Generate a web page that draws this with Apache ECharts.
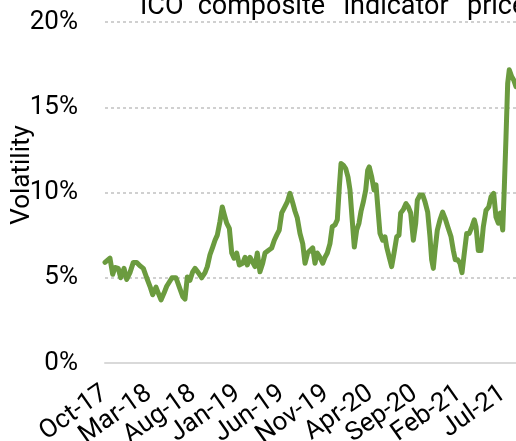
<!DOCTYPE html>
<html>
<head>
<meta charset="utf-8">
<script src="https://cdn.jsdelivr.net/npm/echarts@6/dist/echarts.min.js"></script>
<style>
  html, body { margin: 0; padding: 0; background: #fff; }
  #chart { width: 516px; height: 441px; }
</style>
</head>
<body>
<div id="chart"></div>
<script>
// months since Oct-2017, volatility in %
const months = [
  0, 0.56, 0.87, 1.13, 1.5, 1.77, 2.15, 2.45, 2.82, 3.2, 3.58, 3.95, 4.33, 4.71, 5.08, 5.39,
  5.76, 6.02, 6.33, 6.67, 6.97, 7.27, 7.57, 8.02, 8.4, 8.78, 9.04, 9.3, 9.6, 9.91, 10.17, 10.54,
  10.93, 11.3, 11.56, 11.86, 12.17, 12.43, 12.69, 12.99, 13.25, 13.48, 13.75, 14.05, 14.32, 14.58, 14.88, 15.18,
  15.56, 15.82, 16.08, 16.38, 16.69, 16.95, 17.21, 17.51, 17.82, 18.08, 18.45, 18.84, 19.13, 19.4, 19.69, 19.97,
  20.26, 20.6, 20.9, 21.21, 21.47, 21.73, 22.03, 22.34, 22.6, 22.9, 23.16, 23.47, 23.73, 23.99, 24.29, 24.6,
  24.86, 25.12, 25.42, 25.68, 25.99, 26.25, 26.48, 26.67, 26.93, 27.2, 27.46, 27.68, 27.91, 28.17, 28.44, 28.7,
  28.93, 29.19, 29.46, 29.68, 29.86, 30.14, 30.4, 30.62, 30.88, 31.07, 31.38, 31.64, 31.83, 32.12, 32.39, 32.66,
  32.96, 33.22, 33.41, 33.71, 34.01, 34.27, 34.54, 34.84, 35.11, 35.29, 35.59, 35.9, 36.16, 36.46, 36.72, 36.91,
  37.1, 37.29, 37.55, 37.85, 38.15, 38.42, 38.72, 39.1, 39.36, 39.58, 39.85, 40.11, 40.34, 40.6, 40.87, 41.16,
  41.47, 41.73, 41.92, 42.18, 42.49, 42.75, 43.05, 43.36, 43.62, 43.92, 44.18, 44.44, 44.67, 44.94, 45.12, 45.31,
  45.5, 45.68, 45.95, 46.18, 46.44
];
const volatility = [
  5.9, 6.15, 5.2, 5.6, 5.55, 5.0, 5.55, 4.9, 5.3, 5.9, 5.9, 5.7, 5.55, 5.0, 4.5, 4.0,
  4.45, 4.1, 3.7, 4.1, 4.5, 4.75, 5.0, 5.0, 4.45, 3.9, 3.75, 5.05, 4.85, 5.35, 5.55, 5.3,
  5.0, 5.3, 5.65, 6.35, 6.8, 7.2, 7.5, 8.3, 9.15, 8.7, 8.2, 7.9, 6.45, 6.15, 6.45, 5.75,
  5.85, 6.2, 5.75, 6.2, 5.9, 5.65, 6.45, 5.35, 5.85, 6.45, 6.6, 6.75, 7.2, 7.5, 7.8, 8.8,
  9.1, 9.45, 9.95, 9.4, 8.9, 8.5, 7.6, 7.0, 5.85, 6.45, 6.6, 6.75, 5.85, 6.45, 6.2, 5.85,
  6.2, 6.45, 7.0, 8.0, 8.1, 8.4, 10.35, 11.7, 11.6, 11.4, 10.9, 10.15, 8.55, 6.8, 7.8, 8.2,
  8.9, 9.45, 10.15, 11.3, 11.5, 10.9, 10.15, 10.45, 8.8, 7.6, 7.2, 7.4, 6.8, 6.2, 5.65, 6.45,
  7.4, 7.5, 8.8, 9.0, 9.35, 9.15, 8.8, 7.2, 8.2, 9.55, 9.85, 9.85, 9.45, 8.85, 7.4, 6.05,
  5.55, 6.6, 7.8, 8.4, 8.85, 8.5, 8.0, 7.4, 6.6, 6.05, 6.05, 5.85, 5.3, 6.45, 7.6, 7.6,
  8.0, 8.4, 8.0, 6.6, 6.6, 8.0, 8.95, 9.15, 9.75, 9.95, 8.55, 8.2, 8.8, 7.8, 10.3, 13.25,
  16.4, 17.2, 16.8, 16.6, 16.2
];
const tickLabels = ['Oct-17', 'Mar-18', 'Aug-18', 'Jan-19', 'Jun-19', 'Nov-19', 'Apr-20', 'Sep-20', 'Feb-21', 'Jul-21'];

const font = 'Roboto';
const chart = echarts.init(document.getElementById('chart'));

const xLabelStyle = {
  rotate: 35,
  margin: 28,
  showMaxLabel: false,
  hideOverlap: false,
  fontFamily: font, fontSize: 26, color: '#000'
};

chart.setOption({
  animation: false,
  grid: { left: 105, right: 0, top: 22, bottom: 78, outerBoundsMode: 'none' },
  graphic: [
    {
      type: 'text', left: 140, top: -6,
      style: {
        text: 'ICO"\u2009composite\u2002\u2006indicator\u2002\u2006price\u2002\u2006volatility',
        font: '27px ' + font, fill: '#000'
      }
    },
    {
      type: 'text', x: 22, y: 175, rotation: Math.PI / 2,
      style: { text: 'Volatility', font: '26px ' + font, fill: '#000', align: 'center', verticalAlign: 'middle' }
    }
  ],
  xAxis: [
    {
      type: 'value',
      min: 0, max: 46.44, interval: 5,
      axisLine: { show: true, lineStyle: { color: '#d9d9d9', width: 2 } },
      axisTick: { show: false },
      splitLine: { show: false },
      axisLabel: Object.assign({}, xLabelStyle, {
        showMinLabel: false,
        formatter: v => tickLabels[Math.round(v / 5)] || ''
      })
    },
    {
      // only carries the first tick label (Oct-17), which the main axis drops on overlap
      type: 'value', position: 'bottom',
      min: 0, max: 46.44, interval: 5,
      axisLine: { show: false },
      axisTick: { show: false },
      splitLine: { show: false },
      axisLabel: Object.assign({}, xLabelStyle, {
        showMinLabel: true,
        formatter: v => (v === 0 ? tickLabels[0] : '')
      })
    }
  ],
  yAxis: {
    type: 'value',
    min: 0, max: 20, interval: 5,
    axisLine: { show: false },
    axisTick: { show: false },
    splitLine: { lineStyle: { color: '#d0d0d0', width: 2, type: [3, 3] } },
    axisLabel: { margin: 27, fontFamily: font, fontSize: 26, color: '#000', formatter: '{value}%' }
  },
  series: [{
    type: 'line',
    xAxisIndex: 0,
    data: months.map((m, i) => [m, volatility[i]]),
    showSymbol: false,
    lineStyle: { color: '#6b9b3f', width: 5, join: 'round', cap: 'round' }
  }]
});
</script>
</body>
</html>
